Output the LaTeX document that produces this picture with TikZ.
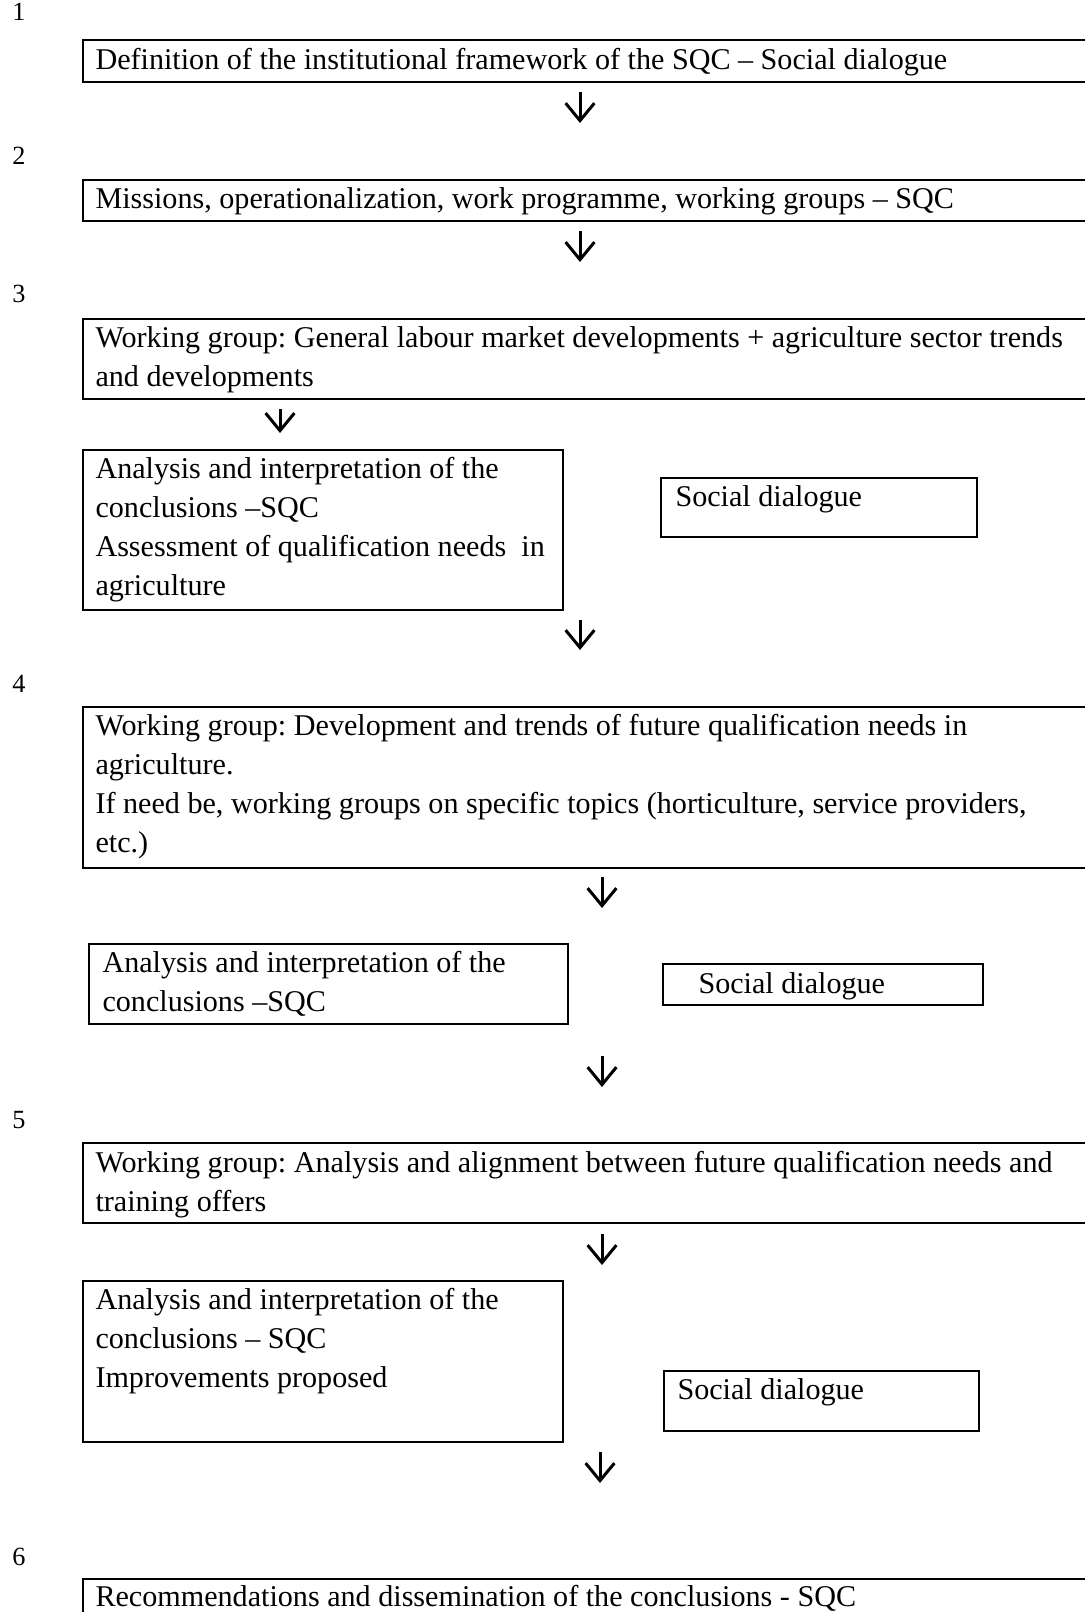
\documentclass[tikz,border=0pt]{standalone}
\usepackage{fontspec}
\setmainfont{Liberation Serif}
\usetikzlibrary{arrows.meta}
\frenchspacing
\newcommand\lns[1]{\begin{tabular}[t]{@{}l@{}}#1\end{tabular}}
\begin{document}
\begin{tikzpicture}[x=0.4pt,y=-0.4pt,
  font=\frenchspacing\fontsize{12.05pt}{15.6pt}\selectfont,
  bx/.style 2 args={draw, line width=0.8pt, inner sep=0pt, anchor=north west,
     minimum width={#1*0.4pt}, minimum height={#2*0.4pt}},
  tx/.style={anchor=base west, inner sep=0pt},
  num/.style={anchor=base west, inner sep=0pt, font=\fontsize{10.5pt}{12pt}\selectfont},
  arr/.style={line width=1.2pt, -{Straight Barb[length=7pt,width=11.5pt,line width=1.2pt]}}]
\useasboundingbox (0,0) rectangle (1085,1612);
\clip (0,0) rectangle (1085,1612);
\fill[white] (0,0) rectangle (1085,1612);

% step numbers
\node[num] (n1) at (12,21) {1};
\node[num] (n2) at (12,165) {2};
\node[num] (n3) at (12,302) {3};
\node[num] (n4) at (12,692) {4};
\node[num] (n5) at (12,1128) {5};
\node[num] (n6) at (12,1565) {6};

% boxes
\node[bx={1018}{42}] (b1) at (82,39) {};
\node[bx={1018}{41}] (b2) at (82,179) {};
\node[bx={1018}{80}] (b3) at (82,318) {};
\node[bx={480}{160}] (b4a) at (82,449) {};
\node[bx={316}{59}] (s1) at (660,477) {};
\node[bx={1018}{161}] (b4) at (82,706) {};
\node[bx={479}{80}] (b4b) at (88,943) {};
\node[bx={320}{41}] (s2) at (662,963) {};
\node[bx={1018}{80}] (b5) at (82,1142) {};
\node[bx={480}{161}] (b5a) at (82,1280) {};
\node[bx={315}{60}] (s3) at (663,1370) {};
\node[bx={1018}{100}] (b6) at (82,1578) {};

% texts
\node[tx] (t1) at (95,70) {Definition of the institutional framework of the SQC – Social dialogue};
\node[tx] (t2) at (95,209) {Missions, operationalization, work programme, working groups – SQC};
\node[tx] (t3) at (95,347) {\lns{Working group: General labour market developments + agriculture sector trends\\and developments}};
\node[tx] (t4a) at (95,478) {\lns{Analysis and interpretation of the\\conclusions –SQC\\Assessment of qualification needs\ \ in\\agriculture}};
\node[tx] (ts1) at (675,506) {Social dialogue};
\node[tx] (t4) at (95,735) {\lns{Working group: Development and trends of future qualification needs in\\agriculture.\\If need be, working groups on specific topics (horticulture, service providers,\\etc.)}};
\node[tx] (t4b) at (102,972) {\lns{Analysis and interpretation of the\\conclusions –SQC}};
\node[tx] (ts2) at (698,993) {Social dialogue};
\node[tx] (t5) at (95,1172) {\lns{Working group: Analysis and alignment between future qualification needs and\\training offers}};
\node[tx] (t5a) at (95,1309) {\lns{Analysis and interpretation of the\\conclusions – SQC\\Improvements proposed}};
\node[tx] (ts3) at (677,1399) {Social dialogue};
\node[tx] (t6) at (95,1606) {Recommendations and dissemination of the conclusions - SQC};

% arrows
\coordinate (a1s) at (580,92);   \coordinate (a1e) at (580,123);
\coordinate (a2s) at (580,231);  \coordinate (a2e) at (580,262);
\coordinate (a3s) at (280,409);  \coordinate (a3e) at (280,433);
\coordinate (a4s) at (580,620);  \coordinate (a4e) at (580,650);
\coordinate (a5s) at (602,877);  \coordinate (a5e) at (602,908);
\coordinate (a6s) at (602,1056); \coordinate (a6e) at (602,1087);
\coordinate (a7s) at (602,1234); \coordinate (a7e) at (602,1265);
\coordinate (a8s) at (600,1452); \coordinate (a8e) at (600,1483);
\foreach \i in {1,...,8} { \draw[arr] (a\i s) -- (a\i e); }
\end{tikzpicture}
\end{document}
